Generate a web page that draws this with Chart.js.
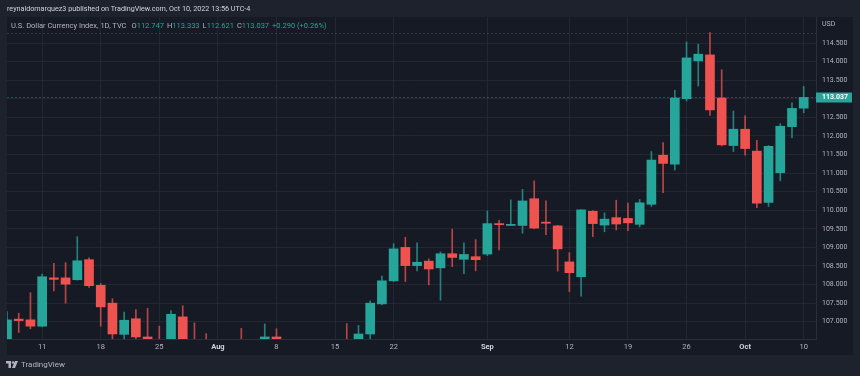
<!DOCTYPE html>
<html lang="en">
<head>
  <meta charset="UTF-8" />
  <title>U.S. Dollar Currency Index, 1D</title>
  <script src="https://cdn.jsdelivr.net/npm/chart.js"></script>
  <style>
    body {
      margin: 0;
      padding: 0;
      background: #1e222d;
      font-family: Roboto, sans-serif;
    }

    .marco {
      position: relative;
      width: 860px;
      height: 376px;
      background: #1e222d;
      overflow: hidden;
    }

    .panel {
      position: absolute;
      left: 7px;
      top: 17px;
      width: 846px;
      height: 338px;
      background: #161a25;
    }

    .lienzo {
      position: absolute;
      left: 0;
      top: 0;
      width: 860px;
      height: 376px;
    }

    .autor {
      position: absolute;
      left: 7px;
      top: 4px;
      font-size: 7.2px;
      color: #d1d4dc;
      white-space: nowrap;
    }

    .leyenda {
      position: absolute;
      left: 11px;
      top: 21px;
      font-size: 7.5px;
      color: #b2b5be;
      white-space: nowrap;
    }

    .leyenda .v { color: #26a69a; margin-right: 3px; }
    .leyenda .hueco { display: inline-block; width: 5px; }

    .moneda {
      position: absolute;
      left: 822px;
      top: 20px;
      font-size: 7px;
      color: #b2b5be;
    }

    .pie {
      position: absolute;
      left: 6px;
      top: 360px;
      font-size: 8px;
      color: #b2b5be;
      display: flex;
      align-items: center;
      gap: 3px;
    }
  </style>
</head>
<body>
  <div class="marco">
    <div class="panel"></div>
    <div class="lienzo"><canvas id="graficoDxy"></canvas></div>
    <div class="autor">reynaldomarquez3 published on TradingView.com, Oct 10, 2022 13:56 UTC-4</div>
    <div class="leyenda">U.S. Dollar Currency Index, 1D, TVC<span class="hueco"></span>O<span class="v">112.747</span>H<span class="v">113.333</span>L<span class="v">112.621</span>C<span class="v">113.037</span><span class="v">+0.290 (+0.26%)</span></div>
    <div class="moneda">USD</div>
    <div class="pie">
      <svg width="12" height="7" viewBox="0 0 24 14">
        <path d="M0 0h10v14H5V5H0z" fill="#b2b5be"/>
        <circle cx="14" cy="3" r="2.6" fill="#b2b5be"/>
        <path d="M18 0h6l-6 14h-6z" fill="#b2b5be"/>
      </svg>
      <span>TradingView</span>
    </div>
  </div>

  <script>
    const dates = [
      '2022-07-06', '2022-07-07', '2022-07-08', '2022-07-11', '2022-07-12', '2022-07-13', '2022-07-14', '2022-07-15',
      '2022-07-18', '2022-07-19', '2022-07-20', '2022-07-21', '2022-07-22', '2022-07-25', '2022-07-26', '2022-07-27',
      '2022-07-28', '2022-07-29',
      '2022-08-01', '2022-08-02', '2022-08-03', '2022-08-04', '2022-08-05', '2022-08-08', '2022-08-09', '2022-08-10',
      '2022-08-11', '2022-08-12', '2022-08-15', '2022-08-16', '2022-08-17', '2022-08-18', '2022-08-19', '2022-08-22',
      '2022-08-23', '2022-08-24', '2022-08-25', '2022-08-26', '2022-08-29', '2022-08-30', '2022-08-31',
      '2022-09-01', '2022-09-02', '2022-09-05', '2022-09-06', '2022-09-07', '2022-09-08', '2022-09-09', '2022-09-12',
      '2022-09-13', '2022-09-14', '2022-09-15', '2022-09-16', '2022-09-19', '2022-09-20', '2022-09-21', '2022-09-22',
      '2022-09-23', '2022-09-26', '2022-09-27', '2022-09-28', '2022-09-29', '2022-09-30',
      '2022-10-03', '2022-10-04', '2022-10-05', '2022-10-06', '2022-10-07', '2022-10-10'
    ];

    const opens = [
      106.40, 107.07, 107.05, 106.88, 108.18, 108.18, 108.13, 108.67, 107.98, 107.50, 106.66, 107.08, 106.59, 106.50, 106.40, 107.13, 106.30, 106.20,
      105.85, 105.30, 106.45, 106.50, 105.80, 106.59, 106.35, 106.30, 105.20, 105.10, 105.60, 106.50, 106.45, 106.67, 107.48, 108.10, 109.00, 108.51, 108.63, 108.45, 108.83, 108.68, 108.75,
      108.82, 109.64, 109.59, 109.59, 110.31, 109.68, 109.58, 108.61, 108.21, 109.97, 109.60, 109.80, 109.78, 109.62, 110.16, 111.48, 111.24, 113.00, 114.02, 114.18, 113.02, 111.74,
      112.18, 111.59, 110.21, 111.01, 112.25, 112.747
    ];
    const highs = [
      107.27, 107.23, 107.78, 108.28, 108.57, 108.59, 109.29, 108.72, 108.03, 107.62, 107.26, 107.33, 107.36, 106.88, 107.30, 107.43, 106.97, 106.68,
      106.00, 106.30, 106.82, 106.50, 106.94, 106.81, 106.50, 106.40, 105.50, 105.70, 106.50, 106.95, 106.90, 107.56, 108.23, 109.10, 109.27, 109.12, 108.69, 108.88, 109.49, 109.12, 109.21,
      109.98, 109.73, 110.28, 110.56, 110.79, 110.25, 109.59, 108.86, 110.02, 109.99, 109.93, 110.27, 110.19, 110.29, 111.58, 111.82, 113.23, 114.53, 114.47, 114.78, 113.78, 112.67,
      112.54, 111.88, 111.74, 112.33, 112.89, 113.333
    ];
    const lows = [
      106.20, 106.71, 106.81, 106.86, 107.83, 107.50, 108.12, 107.92, 106.88, 106.54, 106.40, 106.30, 106.10, 106.10, 106.30, 106.20, 105.80, 105.60,
      105.00, 104.70, 106.00, 105.40, 105.60, 106.00, 106.00, 104.60, 104.60, 105.00, 105.50, 106.20, 106.30, 106.54, 107.45, 108.08, 108.08, 108.37, 107.99, 107.58, 108.48, 108.29, 108.37,
      108.78, 108.93, 109.59, 109.38, 109.50, 109.34, 108.36, 107.81, 107.69, 109.29, 109.42, 109.47, 109.45, 109.55, 110.10, 110.47, 111.08, 112.94, 113.34, 112.55, 111.73, 111.58,
      111.48, 110.07, 110.10, 110.79, 111.95, 112.621
    ];
    const closes = [
      107.05, 107.03, 106.88, 108.21, 108.14, 108.01, 108.64, 107.97, 107.40, 106.67, 107.04, 106.59, 106.40, 106.40, 107.20, 106.40, 105.95, 105.90,
      105.35, 106.20, 106.20, 105.70, 106.59, 106.35, 106.30, 105.20, 105.10, 105.60, 106.40, 106.45, 106.67, 107.50, 108.10, 108.96, 108.51, 108.60, 108.42, 108.83, 108.73, 108.81, 108.67,
      109.64, 109.61, 109.62, 110.25, 109.52, 109.65, 108.96, 108.32, 110.01, 109.64, 109.76, 109.63, 109.66, 110.20, 111.35, 111.26, 113.02, 114.10, 114.20, 112.70, 111.76, 112.18,
      111.66, 110.19, 111.72, 112.26, 112.74, 113.037
    ];

    const tickDates = ['2022-07-11', '2022-07-18', '2022-07-25', '2022-08-01', '2022-08-08', '2022-08-15', '2022-08-22',
                       '2022-09-01', '2022-09-12', '2022-09-19', '2022-09-26', '2022-10-03', '2022-10-10'];
    const tickLabels = ['11', '18', '25', 'Aug', '8', '15', '22', 'Sep', '12', '19', '26', 'Oct', '10'];
    const monthLabels = ['Aug', 'Sep', 'Oct'];
    const priceTicks = [107, 107.5, 108, 108.5, 109, 109.5, 110, 110.5, 111, 111.5, 112, 112.5, 113, 113.5, 114, 114.5];

    const verde = '#26a69a';
    const rojo = '#ef5350';
    const tickIdx = tickDates.map(d => dates.indexOf(d));
    const sube = dates.map((d, i) => closes[i] >= opens[i]);

    // linea punteada del ultimo precio y etiqueta en la escala
    const ultimoPrecio = {
      id: 'ultimoPrecio',
      afterDraw(chart) {
        const { ctx, chartArea, scales: { y } } = chart;
        const ultimo = closes[closes.length - 1];
        const py = Math.round(y.getPixelForValue(ultimo)) + 0.5;
        const maximo = Math.max(...highs);
        const pm = Math.round(y.getPixelForValue(maximo)) + 0.5;
        ctx.save();
        ctx.lineWidth = 1;
        ctx.setLineDash([2, 2]);
        ctx.strokeStyle = 'rgba(120,123,134,0.3)';
        ctx.beginPath();
        ctx.moveTo(chartArea.left, pm);
        ctx.lineTo(chartArea.right, pm);
        ctx.stroke();
        ctx.strokeStyle = 'rgba(38,166,154,0.4)';
        ctx.beginPath();
        ctx.moveTo(chartArea.left, py);
        ctx.lineTo(chartArea.right, py);
        ctx.stroke();
        ctx.setLineDash([]);
        ctx.fillStyle = verde;
        ctx.fillRect(chartArea.right, py - 5, 36, 10);
        ctx.fillStyle = '#ffffff';
        ctx.font = 'bold 7px Roboto';
        ctx.textBaseline = 'middle';
        ctx.textAlign = 'left';
        ctx.fillText(ultimo.toFixed(3), chartArea.right + 6, py);
        ctx.restore();
      }
    };

    const ctx = document.getElementById('graficoDxy').getContext('2d');
    new Chart(ctx, {
      type: 'bar',
      data: {
        datasets: [{
          label: 'cuerpo',
          data: dates.map((d, i) => ({ x: i, y: [opens[i], closes[i]] })),
          backgroundColor: sube.map(s => s ? verde : rojo),
          borderWidth: 0,
          barThickness: 9,
          minBarLength: 1,
          grouped: false,
          clip: 0
        }, {
          label: 'mecha',
          data: dates.map((d, i) => ({ x: i, y: [lows[i], highs[i]] })),
          backgroundColor: sube.map(s => s ? 'rgba(38,166,154,0.75)' : 'rgba(239,83,80,0.75)'),
          borderWidth: 0,
          barThickness: 1,
          grouped: false,
          clip: 0
        }]
      },
      options: {
        responsive: true,
        maintainAspectRatio: false,
        animation: false,
        layout: { padding: { left: 7, right: 7, top: 17, bottom: 21 } },
        plugins: {
          legend: { display: false },
          tooltip: { enabled: false }
        },
        scales: {
          x: {
            type: 'linear',
            min: 0,
            max: 69.05,
            offset: false,
            afterBuildTicks: s => { s.ticks = tickIdx.map(v => ({ value: v })); },
            afterFit: s => { s.height = 16; },
            grid: { color: 'rgba(42,46,57,0.7)', drawTicks: false, offset: false },
            border: { color: '#2a2e39' },
            ticks: {
              autoSkip: false,
              maxRotation: 0,
              padding: 4,
              color: c => monthLabels.includes(tickLabels[c.index]) ? '#d1d4dc' : '#b2b5be',
              font: c => ({ family: 'Roboto', size: 7.5, weight: monthLabels.includes(tickLabels[c.index]) ? 'bold' : 'normal' }),
              callback: (v, i) => tickLabels[i]
            }
          },
          y: {
            position: 'right',
            min: 106.535,
            max: 115.2,
            afterBuildTicks: s => { s.ticks = priceTicks.map(v => ({ value: v })); },
            afterFit: s => { s.width = 37; },
            grid: { color: 'rgba(42,46,57,0.7)', drawTicks: false },
            border: { color: '#2a2e39' },
            ticks: {
              padding: 6,
              color: '#b2b5be',
              font: { family: 'Roboto', size: 7 },
              callback: v => v.toFixed(3)
            }
          }
        }
      },
      plugins: [ultimoPrecio]
    });
  </script>
</body>
</html>
